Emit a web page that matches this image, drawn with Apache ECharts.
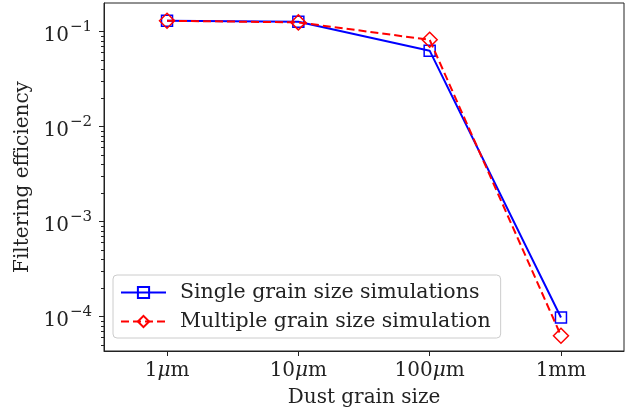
<!DOCTYPE html>
<html><head><meta charset="utf-8">
<script src="https://cdn.jsdelivr.net/npm/echarts@6/dist/echarts.min.js"></script>
<style>html,body{margin:0;padding:0;background:#fff}#c{width:640px;height:413px}</style>
</head><body><div id="c"></div>
<script>
const categories = ['1μm', '10μm', '100μm', '1mm'];
const singleGrain = [0.13, 0.127, 0.063, 9.8e-5];
const multipleGrain = [0.13, 0.125, 0.082, 6.3e-5];
const yMajorTicks = [1e-4, 1e-3, 1e-2, 1e-1];
const yMinorTicks = [5e-5, 6e-5, 7e-5, 8e-5, 9e-5,
  2e-4, 3e-4, 4e-4, 5e-4, 6e-4, 7e-4, 8e-4, 9e-4,
  2e-3, 3e-3, 4e-3, 5e-3, 6e-3, 7e-3, 8e-3, 9e-3,
  2e-2, 3e-2, 4e-2, 5e-2, 6e-2, 7e-2, 8e-2, 9e-2];
const xTicks = [0, 1, 2, 3];

const FONT = 'DejaVu Serif';
const INK = '#222';
const Y_MIN = 4.35e-5, Y_MAX = 0.2;

function xLabel(v) {
  const s = categories[Math.round(v)] || '';
  const i = s.indexOf('μ');
  if (i < 0) return '{n|' + s + '}';
  return '{n|' + s.slice(0, i) + '}{i|μ}{n|' + s.slice(i + 1) + '}';
}
function yLabel(v) {
  const e = Math.round(Math.log10(v));
  return '{b|10}{s|−' + Math.abs(e) + '}';
}

const chart = echarts.init(document.getElementById('c'), null, {renderer: 'canvas'});
chart.setOption({
  animation: false,
  backgroundColor: '#fff',
  grid: {left: 104, right: 16, top: 3, bottom: 62, show: true, borderColor: INK, borderWidth: 1,
         backgroundColor: 'transparent', containLabel: false, outerBoundsMode: 'none'},
  xAxis: {
    type: 'value', min: -0.48, max: 3.48,
    name: 'Dust grain size', nameLocation: 'middle', nameGap: 37,
    nameTextStyle: {fontFamily: FONT, fontSize: 20, color: INK},
    axisLine: {show: true, onZero: false, lineStyle: {color: INK, width: 1}},
    axisTick: {show: true, length: 5, lineStyle: {color: INK}, customValues: xTicks},
    splitLine: {show: false},
    axisLabel: {
      customValues: xTicks, margin: 10, color: INK,
      formatter: xLabel,
      rich: {
        n: {fontFamily: FONT, fontSize: 20, color: INK},
        i: {fontFamily: FONT, fontSize: 20, fontStyle: 'italic', color: INK}
      }
    }
  },
  yAxis: [{
    type: 'log', logBase: 10, min: Y_MIN, max: Y_MAX,
    name: 'Filtering efficiency', nameLocation: 'middle', nameGap: 70, nameRotate: 90,
    nameTextStyle: {fontFamily: FONT, fontSize: 20, color: INK},
    axisLine: {show: true, onZero: false, lineStyle: {color: INK, width: 1}},
    axisTick: {show: true, length: 5, lineStyle: {color: INK}, customValues: yMajorTicks},
    splitLine: {show: false},
    minorTick: {show: false},
    axisLabel: {
      customValues: yMajorTicks, margin: 12, color: INK,
      formatter: yLabel,
      rich: {
        b: {fontFamily: FONT, fontSize: 20, color: INK, padding: [9, 0, 0, 0]},
        s: {fontFamily: FONT, fontSize: 15, color: INK, padding: [0, 0, 9, 1]}
      }
    }
  }, {
    type: 'log', logBase: 10, min: Y_MIN, max: Y_MAX, position: 'left',
    axisLine: {show: false, onZero: false},
    axisTick: {show: true, length: 3, lineStyle: {color: INK}, customValues: yMinorTicks},
    axisLabel: {show: false},
    splitLine: {show: false}
  }],
  legend: {
    orient: 'vertical', left: 113, top: 275,
    padding: [7, 10, 6, 7], itemGap: 8, itemWidth: 45, itemHeight: 14,
    backgroundColor: 'rgba(255,255,255,0.85)', borderColor: '#ccc', borderWidth: 1, borderRadius: 4,
    textStyle: {fontFamily: FONT, fontSize: 20.5, color: INK, padding: [0, 0, 0, 9]},
    data: ['Single grain size simulations', 'Multiple grain size simulation']
  },
  series: [{
    name: 'Single grain size simulations', type: 'line', yAxisIndex: 0,
    data: singleGrain.map((v, k) => [k, v]),
    symbol: 'rect', symbolSize: 11,
    lineStyle: {color: '#0000ff', width: 2, type: 'solid'},
    itemStyle: {color: 'rgba(255,255,255,0)', borderColor: '#0000ff', borderWidth: 1.5},
    z: 3
  }, {
    name: 'Multiple grain size simulation', type: 'line', yAxisIndex: 0,
    data: multipleGrain.map((v, k) => [k, v]),
    symbol: 'diamond', symbolSize: 15,
    lineStyle: {color: '#ff0000', width: 2, type: [8, 4]},
    itemStyle: {color: 'rgba(255,255,255,0)', borderColor: '#ff0000', borderWidth: 1.5},
    z: 4
  }]
});
</script></body></html>
